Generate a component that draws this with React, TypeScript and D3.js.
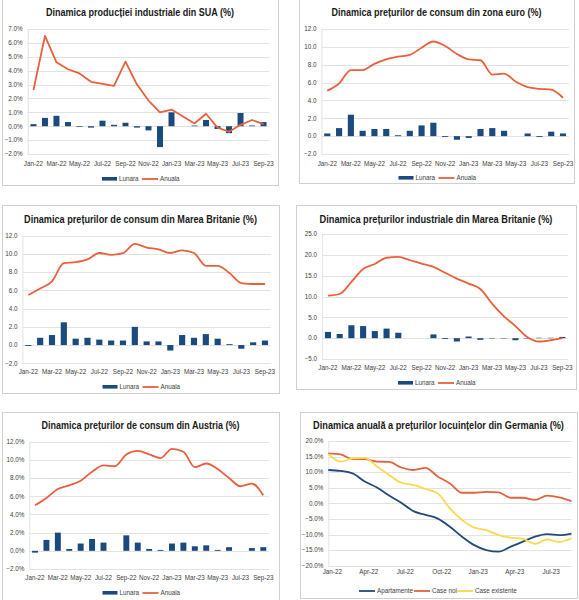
import React, { useLayoutEffect, useRef, useState } from 'react';
import * as d3 from 'd3';

// luni comune pentru graficele 1-5
const months = [
  'Jan-22', 'Feb-22', 'Mar-22', 'Apr-22', 'May-22', 'Jun-22', 'Jul-22', 'Aug-22', 'Sep-22', 'Oct-22', 'Nov-22',
  'Dec-22', 'Jan-23', 'Feb-23', 'Mar-23', 'Apr-23', 'May-23', 'Jun-23', 'Jul-23', 'Aug-23', 'Sep-23',
];

const usMonthly = [0.15, 0.6, 0.75, 0.3, -0.05, -0.1, 0.4, 0.1, 0.25, -0.1, -0.3, -1.5, 1.0, 0, 0.05, 0.45, -0.2, -0.5, 0.95, 0.05, 0.3];
const usAnnual = [2.6, 6.5, 4.6, 4.1, 3.8, 3.2, 3.05, 2.9, 4.65, 3.0, 1.85, 1.0, 1.2, 0.7, 0.2, 0.9, -0.1, -0.4, 0.1, 0.45, 0.15];

const euMonthly = [0.3, 0.9, 2.4, 0.6, 0.8, 0.8, 0.1, 0.6, 1.2, 1.5, -0.1, -0.4, -0.2, 0.8, 0.9, 0.6, 0.0, 0.3, -0.1, 0.5, 0.3];
const euAnnual = [5.1, 5.9, 7.4, 7.4, 8.1, 8.6, 8.9, 9.1, 9.9, 10.6, 10.1, 9.2, 8.6, 8.5, 6.9, 7.0, 6.1, 5.5, 5.3, 5.2, 4.3];

const ukCpiMonthly = [-0.1, 0.8, 1.1, 2.5, 0.7, 0.8, 0.6, 0.5, 0.5, 2.0, 0.4, 0.4, -0.6, 1.1, 0.8, 1.2, 0.7, 0.1, -0.4, 0.3, 0.5];
const ukCpiAnnual = [5.5, 6.2, 7.0, 9.0, 9.1, 9.4, 10.1, 9.9, 10.1, 11.1, 10.7, 10.5, 10.1, 10.4, 10.1, 8.7, 8.7, 7.9, 6.8, 6.7, 6.7];

const ukPpiMonthly = [1.5, 1.0, 3.1, 2.9, 1.7, 2.3, 1.3, 0, 0, 0.9, -0.2, -0.8, 0.4, -0.4, -0.1, -0.1, -0.5, -0.1, 0.1, 0.1, 0.3];
const ukPpiAnnual = [10.2, 10.6, 13.5, 16.6, 17.8, 19.3, 19.5, 18.7, 17.9, 17.1, 15.7, 14.3, 13.1, 11.8, 8.3, 5.3, 2.9, 0.3, -0.8, -0.5, 0.0];

const atMonthly = [-0.2, 1.2, 2.0, 0.2, 0.8, 1.3, 0.9, 0, 1.7, 0.9, 0.2, 0.1, 0.8, 0.9, 0.5, 0.6, 0.1, 0.4, 0.0, 0.3, 0.4];
const atAnnual = [5.0, 5.8, 6.8, 7.2, 7.7, 8.7, 9.4, 9.3, 10.6, 11.0, 10.6, 10.2, 11.2, 10.9, 9.2, 9.6, 9.0, 8.0, 7.1, 7.4, 6.1];

// Germania - locuinte (anual)
const deApartamente = [10.7, 10.4, 9.6, 7.0, 5.1, 2.5, 0.2, -2.5, -3.7, -4.9, -7.5, -10.7, -13.4, -15.0, -15.5, -13.9, -12.3, -10.7, -9.9, -10.2, -9.7];
const deCaseNoi = [16.0, 15.7, 14.2, 14.2, 13.4, 13.3, 11.5, 10.7, 11.4, 8.6, 6.4, 3.4, 3.4, 3.7, 3.5, 1.8, 1.8, 1.1, 2.5, 1.9, 0.7];
const deCaseExistente = [15.8, 13.4, 14.4, 14.6, 11.8, 9.1, 6.6, 5.9, 4.6, 3.2, -1.6, -5.3, -7.8, -8.6, -10.2, -11.0, -11.4, -13.0, -11.6, -12.4, -11.2];
const deTickLabels = ['Jan-22', 'Apr-22', 'Jul-22', 'Oct-22', 'Jan-23', 'Apr-23', 'Jul-23'];

const BAR = '#1B4A7E';
const LINE = '#E8603C';
const GRID = '#E3E3E3';
const TXT = '#404040';
const TICK_FONT = '"Liberation Sans", Arial, sans-serif';
const TITLE_FONT = '"Liberation Sans", Arial, sans-serif';

interface Box { x: number; y: number; w: number; h: number }

// titlul e comprimat pe orizontala ca sa imite fontul condensat din original
const Title: React.FC<{ cx: number; y: number; width: number; text: string }> = ({ cx, y, width, text }) => {
  const ref = useRef<SVGTextElement>(null);
  const [sx, setSx] = useState(0.75);
  useLayoutEffect(() => {
    if (!ref.current) return;
    const len = ref.current.getComputedTextLength();
    if (len > 0) setSx(width / len);
  }, [width, text]);
  return (
    <text
      ref={ref}
      transform={`translate(${cx},${y}) scale(${sx},1)`}
      textAnchor="middle"
      fontFamily={TITLE_FONT}
      fontWeight="bold"
      fontSize={11.5}
      fill="#1a1a1a"
    >
      {text}
    </text>
  );
};

const Frame: React.FC<{ box: Box; title: string; titleY: number; titleW: number }> = ({ box, title, titleY, titleW }) => (
  <g>
    <rect x={box.x + 0.5} y={box.y + 0.5} width={box.w} height={box.h} fill="#fff" stroke="#D0D0D0" />
    <Title cx={box.x + box.w / 2} y={titleY} width={titleW} text={title} />
  </g>
);

const YGrid: React.FC<{
  y: d3.ScaleLinear<number, number>;
  ticks: number[];
  x0: number;
  x1: number;
  fmt: (v: number) => string;
}> = ({ y, ticks, x0, x1, fmt }) => (
  <g>
    {ticks.map((t) => (
      <g key={t}>
        <line x1={x0} x2={x1} y1={Math.round(y(t)) + 0.5} y2={Math.round(y(t)) + 0.5} stroke={GRID} />
        <text x={x0 - 5} y={y(t) + 2.3} textAnchor="end" fontFamily={TICK_FONT} fontSize={6.3} fill={TXT}>
          {fmt(t)}
        </text>
      </g>
    ))}
    <line x1={x0 + 0.5} x2={x0 + 0.5} y1={y(ticks[ticks.length - 1])} y2={y(ticks[0])} stroke={GRID} />
  </g>
);

interface MixedProps {
  box: Box;
  title: string;
  titleY: number;
  titleW: number;
  plot: { x0: number; x1: number; yTop: number; yBot: number };
  domain: [number, number];
  step: number;
  pct: boolean;
  smooth: boolean;
  monthly: number[];
  annual: number[];
  labelY: number;
  legendY: number;
}

const MixedPanel: React.FC<MixedProps> = (p) => {
  const x = d3.scaleBand<string>().domain(months).range([p.plot.x0, p.plot.x1]).paddingInner(0.48).paddingOuter(0.24);
  const y = d3.scaleLinear().domain(p.domain).range([p.plot.yBot, p.plot.yTop]);
  const ticks = d3.range(p.domain[0], p.domain[1] + p.step / 2, p.step);
  const fmt = (v: number) => d3.format('.1f')(v) + (p.pct ? '%' : '');
  const line = d3
    .line<number>()
    .x((_, i) => (x(months[i]) as number) + x.bandwidth() / 2)
    .y((d) => y(d))
    .curve(p.smooth ? d3.curveMonotoneX : d3.curveLinear);
  const cx = p.box.x + p.box.w / 2;
  return (
    <g>
      <Frame box={p.box} title={p.title} titleY={p.titleY} titleW={p.titleW} />
      <YGrid y={y} ticks={ticks} x0={p.plot.x0} x1={p.plot.x1} fmt={fmt} />
      {p.monthly.map((v, i) => (
        <rect
          key={i}
          x={x(months[i])}
          width={x.bandwidth()}
          y={y(Math.max(0, v))}
          height={Math.abs(y(v) - y(0))}
          fill={BAR}
        />
      ))}
      <path d={line(p.annual) || ''} fill="none" stroke={LINE} strokeWidth={1.8} strokeLinejoin="round" />
      {months.map((m, i) =>
        i % 2 === 0 ? (
          <text
            key={m}
            x={(x(m) as number) + x.bandwidth() / 2}
            y={p.labelY}
            textAnchor="middle"
            fontFamily={TICK_FONT}
            fontSize={6.3}
            fill={TXT}
          >
            {m}
          </text>
        ) : null
      )}
      <g transform={`translate(${cx - 38},${p.legendY})`} fontFamily={TICK_FONT} fontSize={6.3} fill={TXT}>
        <rect x={0} y={-2} width={15} height={3.6} fill={BAR} />
        <text x={17} y={2.2}>Lunara</text>
        <line x1={40} x2={56} y1={0} y2={0} stroke={LINE} strokeWidth={1.8} />
        <text x={58} y={2.2}>Anuala</text>
      </g>
    </g>
  );
};

const GermanyPanel: React.FC = () => {
  const box = { x: 300, y: 412, w: 277, h: 186 };
  const x = d3.scaleLinear().domain([0, deApartamente.length - 1]).range([328.3, 571.5]);
  const y = d3.scaleLinear().domain([-20, 20]).range([565.7, 441]);
  const ticks = d3.range(-20, 21, 5);
  const fmt = (v: number) => d3.format('.1f')(v) + '%';
  const line = d3
    .line<number>()
    .x((_, i) => x(i))
    .y((d) => y(d))
    .curve(d3.curveMonotoneX);
  const series = [
    { name: 'Apartamente', data: deApartamente, color: '#24497A' },
    { name: 'Case noi', data: deCaseNoi, color: '#E2643E' },
    { name: 'Case existente', data: deCaseExistente, color: '#F8DA4A' },
  ];
  const legendX = [359, 414, 457];
  return (
    <g>
      <Frame box={box} title="Dinamica anuală a prețurilor locuințelor din Germania (%)" titleY={429} titleW={251} />
      <YGrid y={y} ticks={ticks} x0={328.3} x1={571.5} fmt={fmt} />
      {series.map((s) => (
        <path key={s.name} d={line(s.data) || ''} fill="none" stroke={s.color} strokeWidth={1.8} strokeLinejoin="round" />
      ))}
      {deTickLabels.map((lab, k) => (
        <text key={lab} x={x(k * 3) + 4} y={574} textAnchor="middle" fontFamily={TICK_FONT} fontSize={6.3} fill={TXT}>
          {lab}
        </text>
      ))}
      <g fontFamily={TICK_FONT} fontSize={6.3} fill={TXT}>
        {series.map((s, i) => (
          <g key={s.name} transform={`translate(${legendX[i]},591)`}>
            <line x1={0} x2={16} y1={0} y2={0} stroke={s.color} strokeWidth={1.8} />
            <text x={18} y={2.2}>{s.name}</text>
          </g>
        ))}
      </g>
    </g>
  );
};

export default function App() {
  return (
    <div style={{ position: 'absolute', left: 0, top: 0 }}>
      <svg width={579} height={600} style={{ display: 'block', background: '#fff' }}>
        <MixedPanel
          box={{ x: 2, y: -1, w: 276, h: 186 }}
          title="Dinamica producției industriale din SUA (%)"
          titleY={16}
          titleW={188}
          plot={{ x0: 27.7, x1: 269.3, yTop: 29, yBot: 154 }}
          domain={[-2, 7]}
          step={1}
          pct={true}
          smooth={false}
          monthly={usMonthly}
          annual={usAnnual}
          labelY={166}
          legendY={179}
        />
        <MixedPanel
          box={{ x: 299, y: -1, w: 275, h: 184 }}
          title="Dinamica prețurilor de consum din zona euro (%)"
          titleY={16}
          titleW={210}
          plot={{ x0: 321.4, x1: 568.9, yTop: 29, yBot: 154 }}
          domain={[-2, 12]}
          step={2}
          pct={false}
          smooth={true}
          monthly={euMonthly}
          annual={euAnnual}
          labelY={166}
          legendY={178}
        />
        <MixedPanel
          box={{ x: 2, y: 205, w: 277, h: 188 }}
          title="Dinamica prețurilor de consum din Marea Britanie (%)"
          titleY={223}
          titleW={233}
          plot={{ x0: 22.4, x1: 270.9, yTop: 235.7, yBot: 363.3 }}
          domain={[-2, 12]}
          step={2}
          pct={false}
          smooth={true}
          monthly={ukCpiMonthly}
          annual={ukCpiAnnual}
          labelY={374}
          legendY={387}
        />
        <MixedPanel
          box={{ x: 296, y: 205, w: 280, h: 184 }}
          title="Dinamica prețurilor industriale din Marea Britanie (%)"
          titleY={223}
          titleW={233}
          plot={{ x0: 322.1, x1: 568.2, yTop: 234, yBot: 359 }}
          domain={[-5, 25]}
          step={5}
          pct={false}
          smooth={true}
          monthly={ukPpiMonthly}
          annual={ukPpiAnnual}
          labelY={370}
          legendY={383}
        />
        <MixedPanel
          box={{ x: 2, y: 412, w: 277, h: 190 }}
          title="Dinamica prețurilor de consum din Austria (%)"
          titleY={429}
          titleW={198}
          plot={{ x0: 29.3, x1: 269, yTop: 441.7, yBot: 569 }}
          domain={[-2, 12]}
          step={2}
          pct={true}
          smooth={true}
          monthly={atMonthly}
          annual={atAnnual}
          labelY={580}
          legendY={593}
        />
        <GermanyPanel />
      </svg>
    </div>
  );
}
